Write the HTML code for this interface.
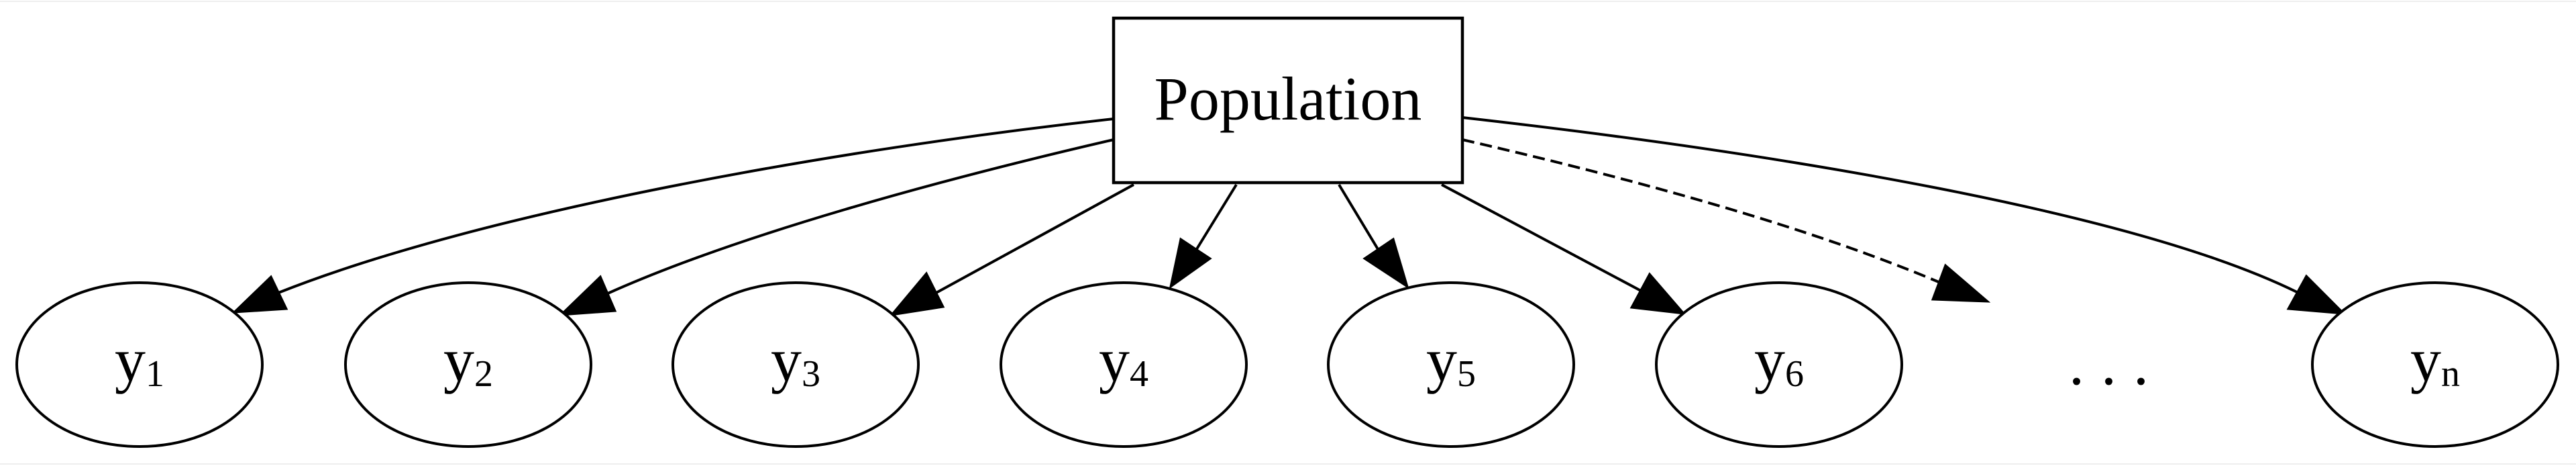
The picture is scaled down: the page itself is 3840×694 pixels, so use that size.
<!DOCTYPE html>
<html><head><meta charset="utf-8"><style>html,body{margin:0;padding:0;background:#fff}svg{display:block}</style></head>
<body>
<svg width="3840" height="694" viewBox="0 0 3840 694" xmlns="http://www.w3.org/2000/svg" font-family="Liberation Serif, serif">
<line x1="0" y1="2" x2="3840" y2="2" stroke="#eee" stroke-width="2"/>
<line x1="0" y1="691" x2="3840" y2="691" stroke="#eee" stroke-width="2"/>
<rect x="1660" y="27" width="520" height="245" fill="#fff" stroke="#000" stroke-width="4.5"/>
<text x="1920" y="178" font-size="92" text-anchor="middle">Population</text>
<g fill="none" stroke="#000" stroke-width="4">
<path d="M1660,177 C1250,222 720,315 415,436"/>
<path d="M1660,208 C1400,268 1100,350 906,437"/>
<path d="M1690,275 L1392,438"/>
<path d="M1843,275 L1782,374"/>
<path d="M1996,275 L2057,376"/>
<path d="M2149,275 L2446,433"/>
<path d="M2180,208 C2450,270 2700,340 2890,420" stroke-dasharray="18,9"/>
<path d="M2180,175 C2650,228 3180,315 3424,435"/>
</g>
<g fill="#000" stroke="#000" stroke-width="3">
<polygon points="404,412 427,460 349,465"/>
<polygon points="895,412 917,463 836,469"/>
<polygon points="1381,407 1406,457 1329,469"/>
<polygon points="1760,356 1804,385 1745,427"/>
<polygon points="2077,356 2034,385 2098,427"/>
<polygon points="2459,408 2432,458 2510,467"/>
<polygon points="2900,395 2881,446 2963,449"/>
<polygon points="3438,411 3411,460 3494,467"/>
</g>
<g fill="#fff" stroke="#000" stroke-width="4">
<ellipse cx="208" cy="543" rx="183" ry="122"/>
<ellipse cx="698" cy="543" rx="183" ry="122"/>
<ellipse cx="1186" cy="543" rx="183" ry="122"/>
<ellipse cx="1675" cy="543" rx="183" ry="122"/>
<ellipse cx="2163" cy="543" rx="183" ry="122"/>
<ellipse cx="2652" cy="543" rx="183" ry="122"/>
<ellipse cx="3630" cy="543" rx="183" ry="122"/>
</g>
<g font-size="92" text-anchor="middle">
<text x="208" y="567">y<tspan font-size="56" dy="8">1</tspan></text>
<text x="698" y="567">y<tspan font-size="56" dy="8">2</tspan></text>
<text x="1186" y="567">y<tspan font-size="56" dy="8">3</tspan></text>
<text x="1675" y="567">y<tspan font-size="56" dy="8">4</tspan></text>
<text x="2163" y="567">y<tspan font-size="56" dy="8">5</tspan></text>
<text x="2652" y="567">y<tspan font-size="56" dy="8">6</tspan></text>
<text x="3144" y="572" letter-spacing="1">. . .</text>
<text x="3630" y="567">y<tspan font-size="56" dy="8">n</tspan></text>
</g>
</svg>
</body></html>
